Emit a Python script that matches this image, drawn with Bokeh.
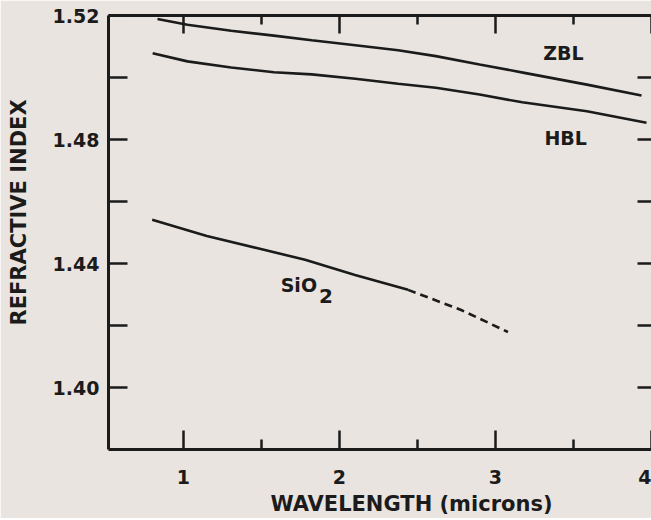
from bokeh.plotting import figure
from bokeh.models import LinearAxis, FixedTicker, Range1d, PrintfTickFormatter, Title
from bokeh.core.properties import value
from bokeh.embed import file_html
from bokeh.resources import INLINE

# ---- data ----
zbl_x = [0.834, 1.026, 1.306, 1.580, 1.822, 2.102, 2.376, 2.618, 2.898, 3.185, 3.586, 3.936]
zbl_y = [1.5189, 1.5170, 1.5151, 1.5135, 1.5120, 1.5104, 1.5088, 1.5069, 1.5042, 1.5015, 1.4977, 1.4942]

hbl_x = [0.803, 1.026, 1.306, 1.580, 1.822, 2.102, 2.376, 2.618, 2.898, 3.172, 3.586, 3.968]
hbl_y = [1.5078, 1.5052, 1.5032, 1.5017, 1.5010, 1.4996, 1.4980, 1.4967, 1.4945, 1.4920, 1.4891, 1.4854]

sio2_x = [0.80, 1.15, 1.47, 1.78, 2.10, 2.44]
sio2_y = [1.4541, 1.4489, 1.4450, 1.4412, 1.4363, 1.4315]

sio2_ext_x = [2.44, 2.78, 3.08]
sio2_ext_y = [1.4315, 1.4250, 1.4179]

x_major = [1, 2, 3, 4]
x_minor = [1.5, 2.5, 3.5]
y_major = [1.40, 1.44, 1.48, 1.52]
y_minor = [1.42, 1.46, 1.50]

labels = ["ZBL", "HBL", "SiO"]
label_x = [3.435, 3.45, 1.74]
label_y = [1.508, 1.4806, 1.4331]

INK = "#1b1b1b"
BG = "#e9e4df"
FONT = "DejaVu Sans"

p = figure(width=651, height=518, output_backend="svg", toolbar_location=None,
           x_range=Range1d(0.52, 4.0), y_range=Range1d(1.38, 1.52),
           x_axis_location=None, y_axis_location=None,
           min_border_left=108, min_border_right=0, min_border_top=15,
           min_border_bottom=10)
p.background_fill_color = BG
p.border_fill_color = BG
p.outline_line_color = None
p.xgrid.visible = False
p.ygrid.visible = False


def style(ax, labels_on, tick_in, minor_in, ticks):
    ax.axis_line_color = INK
    ax.axis_line_width = 3
    ax.major_tick_line_color = INK
    ax.minor_tick_line_color = INK
    ax.major_tick_line_width = 2.5
    ax.minor_tick_line_width = 2.5
    ax.major_tick_in = tick_in
    ax.major_tick_out = 0
    ax.minor_tick_in = minor_in
    ax.minor_tick_out = 0
    ax.major_label_text_font = FONT
    ax.major_label_text_font_style = "bold"
    ax.major_label_text_color = INK
    ax.major_label_text_font_size = "19px"
    if not labels_on:
        ax.major_label_overrides = {t: "" for t in ticks}
        ax.major_label_standoff = 0


xb = LinearAxis(ticker=FixedTicker(ticks=x_major, minor_ticks=x_minor))
style(xb, True, 19, 10, x_major)
xb.major_label_standoff = 20
p.add_layout(xb, "below")

xt = LinearAxis(ticker=FixedTicker(ticks=x_major, minor_ticks=x_minor))
style(xt, False, 18, 9, x_major)
p.add_layout(xt, "above")

yl = LinearAxis(ticker=FixedTicker(ticks=y_major, minor_ticks=y_minor),
                formatter=PrintfTickFormatter(format="%.2f"))
style(yl, True, 19, 19, y_major)
yl.major_label_standoff = 9
p.add_layout(yl, "left")

# invisible spacer between the tick labels and the y title
spacer = LinearAxis(ticker=FixedTicker(ticks=[y_minor[1]]), axis_line_color=None,
                    major_tick_line_color=None, minor_tick_line_color=None,
                    major_tick_in=0, major_tick_out=16, minor_tick_in=0,
                    minor_tick_out=0, major_label_standoff=0,
                    major_label_overrides={y_minor[1]: ""})
p.add_layout(spacer, "left")

yr = LinearAxis(ticker=FixedTicker(ticks=y_major, minor_ticks=y_minor))
style(yr, False, 14, 14, y_major)
yr.axis_line_color = None
p.add_layout(yr, "right")

xtitle = Title(text="WAVELENGTH (microns)", align="left", offset=162,
               text_font=FONT, text_font_style="bold", text_font_size="21px",
               text_color=INK, standoff=6)
p.add_layout(xtitle, "below")

ytitle = Title(text="REFRACTIVE INDEX", align="left", offset=124,
               text_font=FONT, text_font_style="bold", text_font_size="21px",
               text_color=INK, standoff=6)
p.add_layout(ytitle, "left")

p.line(zbl_x, zbl_y, line_color=INK, line_width=2.6)
p.line(hbl_x, hbl_y, line_color=INK, line_width=2.6)
p.line(sio2_x, sio2_y, line_color=INK, line_width=2.6)
p.line(sio2_ext_x, sio2_ext_y, line_color=INK, line_width=2.6, line_dash="8 5")

p.text(x=label_x, y=label_y, text=labels, text_font=value(FONT),
       text_font_style="bold", text_font_size="19px", text_color=INK,
       text_align="center", text_baseline="middle")
# subscript "2" of SiO2
p.text(x=[label_x[2]], y=[label_y[2]], text=["2"], x_offset=[27], y_offset=[11],
       text_font=value(FONT), text_font_style="bold", text_font_size="20px",
       text_color=INK, text_align="center", text_baseline="middle")

open("out.html", "w").write(file_html(p, INLINE))
